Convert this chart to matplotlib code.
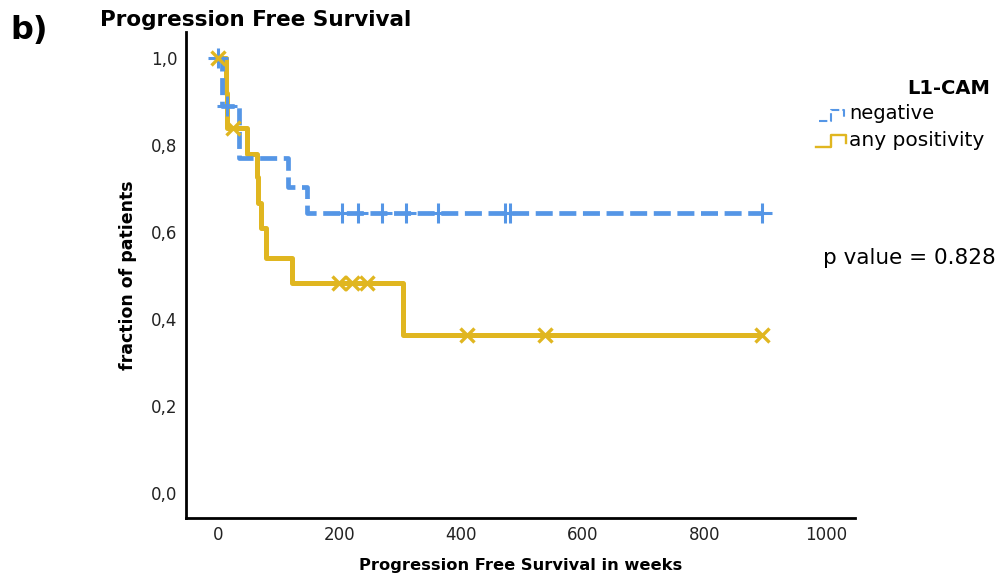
import matplotlib
matplotlib.use("Agg")
import matplotlib.pyplot as plt
import numpy as np
from matplotlib.lines import Line2D

# ---- data ----
neg_times = [0, 6.5, 35, 115, 146]
neg_surv = [1.0, 0.89, 0.77, 0.705, 0.644]
neg_censor = [0, 16, 204, 230, 270, 309, 362, 472, 480, 895]

pos_times = [0, 14, 16, 48, 64, 66, 72, 80, 122, 304]
pos_surv = [1.0, 0.92, 0.84, 0.78, 0.727, 0.667, 0.61, 0.54, 0.483, 0.363]
pos_censor = [0, 25, 200, 220, 245, 410, 538, 895]

x_ticks = [0, 200, 400, 600, 800, 1000]
y_ticks = [0.0, 0.2, 0.4, 0.6, 0.8, 1.0]
y_tick_labels = ["0,0", "0,2", "0,4", "0,6", "0,8", "1,0"]

BLUE = "#5596E6"
YELLOW = "#E0B620"

plt.rcParams['font.family'] = ['DejaVu Sans']

fig = plt.figure(figsize=(10.07, 5.84), dpi=100)
ax = fig.add_axes([0.1847, 0.113, 0.849 - 0.1847, 0.945 - 0.113])


def step_xy(times, surv, end):
    xs = list(times) + [end]
    ys = list(surv) + [surv[-1]]
    return xs, ys


def surv_at(times, surv, t):
    idx = np.searchsorted(times, t, side='right') - 1
    return surv[max(idx, 0)]


xs, ys = step_xy(neg_times, neg_surv, max(neg_censor))
ax.step(xs, ys, where='post', color=BLUE, lw=3.4, linestyle=(0, (3.6, 1.4)), zorder=3)
xs, ys = step_xy(pos_times, pos_surv, max(pos_censor))
ax.step(xs, ys, where='post', color=YELLOW, lw=3.6, zorder=2)

ax.plot(neg_censor, [surv_at(neg_times, neg_surv, t) for t in neg_censor],
        linestyle='none', marker='+', markersize=14, mew=2.2, color=BLUE, zorder=4)
ax.plot(pos_censor, [surv_at(pos_times, pos_surv, t) for t in pos_censor],
        linestyle='none', marker='x', markersize=10, mew=2.4, color=YELLOW, zorder=4)

ax.set_xlim(-52, 1047)
ax.set_ylim(-0.057, 1.06)
ax.set_xticks(x_ticks)
ax.set_xticklabels([str(v) for v in x_ticks])
ax.set_yticks(y_ticks)
ax.set_yticklabels(y_tick_labels)
ax.tick_params(length=0, labelsize=12, colors='#222222')
ax.tick_params(axis='x', pad=6)
ax.tick_params(axis='y', pad=6)
for s in ['top', 'right']:
    ax.spines[s].set_visible(False)
for s in ['left', 'bottom']:
    ax.spines[s].set_linewidth(2.0)
    ax.spines[s].set_color('black')

ax.set_xlabel("Progression Free Survival in weeks", fontsize=11.7, fontweight='bold', labelpad=10)
ax.set_ylabel("fraction of patients", fontsize=12.5, fontweight='bold', labelpad=10)

fig.text(0.010, 0.948, "b)", fontsize=23, fontweight='bold', va='center', ha='left')
fig.text(0.099, 0.966, "Progression Free Survival", fontsize=15.5, fontweight='bold', va='center', ha='left')

fig.text(0.983, 0.849, "L1-CAM", fontsize=14, fontweight='bold', va='center', ha='right')
fig.text(0.843, 0.805, "negative", fontsize=14, va='center', ha='left')
fig.text(0.843, 0.760, "any positivity", fontsize=14.5, va='center', ha='left')
fig.text(0.817, 0.558, "p value = 0.828", fontsize=15.5, va='center', ha='left')

# legend glyphs (small step symbols)
fig.add_artist(Line2D([0.813, 0.825, 0.825, 0.838, 0.838], [0.793, 0.793, 0.812, 0.812, 0.800],
                      transform=fig.transFigure, color=BLUE, lw=1.5, linestyle=(0, (4, 1.5))))
fig.add_artist(Line2D([0.810, 0.825, 0.825, 0.840, 0.840], [0.748, 0.748, 0.768, 0.768, 0.755],
                      transform=fig.transFigure, color=YELLOW, lw=1.7))

fig.savefig("out.png", dpi=100)
